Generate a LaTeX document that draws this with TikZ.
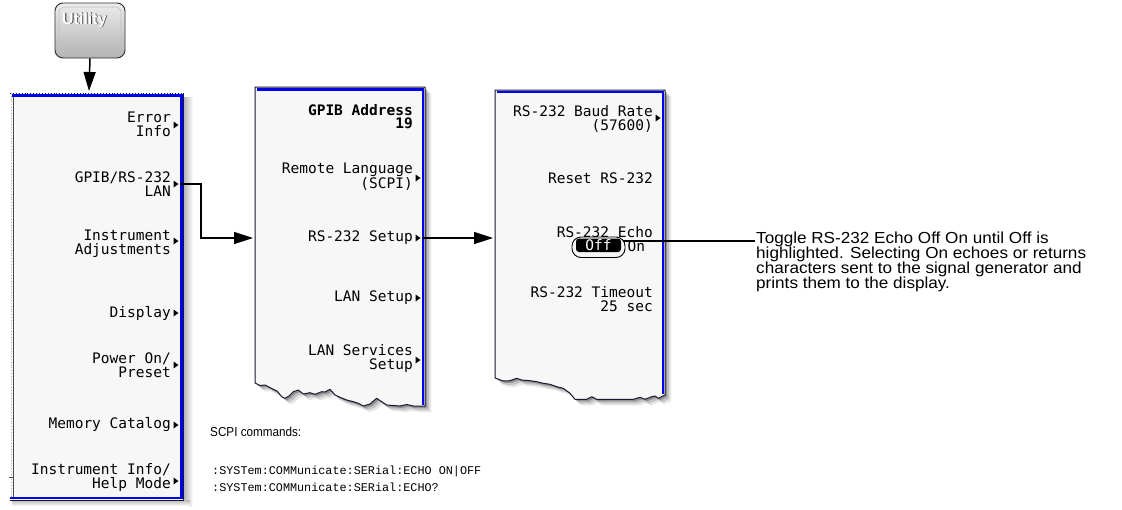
\documentclass[tikz,border=0pt]{standalone}
\usepackage{fontspec}
\setmainfont{Liberation Sans}
\newfontfamily\panelfont{DejaVu Sans Mono}
\newfontfamily\descfont[FakeStretch=1.07]{Liberation Sans}
\newfontfamily\scpifont[FakeStretch=0.9]{Liberation Sans}
\newfontfamily\cmdfont{Liberation Mono}
\usetikzlibrary{arrows.meta}
\definecolor{panelbg}{HTML}{F7F7F7}
\definecolor{blueb}{HTML}{0000F0}
\definecolor{navy}{HTML}{181830}
\newcommand\pf{\panelfont\fontsize{14.5}{14}\selectfont}
\newcommand\mtri[2]{\fill[black] (#1,#2-3.5) -- (#1+5,#2) -- (#1,#2+3.5) -- cycle;}
\tikzset{
  menu/.style={anchor=east, align=right, font=\pf, inner sep=0pt, text=black},
  arr/.style={line width=1.5pt, -{Triangle[length=19pt,width=12pt]}},
  plain/.style={line width=1.5pt},
  tornB/.style={insert path={(255,87) -- (425,87) -- (425,406) -- (413.3,406) -- (406.7,404.5) -- (400,406) -- (393.3,405.5) -- (386.7,405) -- (381.7,401.7) -- (376.7,398.3) -- (370,404) -- (363.3,406) -- (358.3,403.3) -- (353.3,401.7) -- (346.7,400) -- (340,397.3) -- (335,395) -- (330,389.3) -- (325,392) -- (321.7,391.7) -- (315,394.3) -- (310,392.7) -- (303.3,394) -- (298.3,390) -- (293.3,391.7) -- (289,396) -- (285,398.3) -- (281.7,396.7) -- (277,391) -- (273.3,389.3) -- (265,385) -- (260,385.5) -- (255,383) -- cycle}},
  tornC/.style={insert path={(495,90) -- (665,90) -- (665,395) -- (658.3,398.3) -- (655,396) -- (651.7,396.7) -- (645,399.3) -- (640,397.3) -- (633.3,399.3) -- (606.7,399.3) -- (596.7,399.3) -- (591.7,396.7) -- (586.7,399.3) -- (575,399.3) -- (570,393.3) -- (563.3,388.3) -- (556.7,386.7) -- (550,384.3) -- (543.3,383.3) -- (536.7,381.7) -- (530,380.7) -- (521.7,380) -- (516.7,378.3) -- (510,380.7) -- (503.3,381) -- (495,378) -- cycle}}
}
\begin{document}
\begin{tikzpicture}[x=1pt,y=-1pt]
\useasboundingbox (0,0) rectangle (1122,509);
\fill[white] (0,0) rectangle (1122,509);

% ---------- Utility button ----------
\node[draw=gray!35!black, line width=0.9pt, rounded corners=8pt, minimum width=70pt, minimum height=55pt,
      top color=gray!15, bottom color=gray!60, inner sep=0pt] (util) at (90,30.5) {};
\draw[gray!50, line width=0.6pt, rounded corners=6pt] (59,7) rectangle (121,54);
\node[font=\bfseries\fontsize{16}{16}\selectfont, text=gray!40!black, anchor=west, inner sep=0pt] (utsh) at (62.8,20.8) {Utility};
\node[font=\bfseries\fontsize{16}{16}\selectfont, text=white, anchor=west, inner sep=0pt] (utlbl) at (62,20) {Utility};

% ---------- Panel 1 ----------
\shade[left color=gray!65, right color=white] (183,97) rectangle (193,506);
\shade[top color=gray!55, bottom color=white] (12,500) rectangle (190,506);
\fill[panelbg] (11,93) rectangle (182,498);
\draw[gray!60, dotted, line width=0.8pt] (11,93) -- (11,498);
\draw[gray!60!black, line width=0.8pt] (13.5,93) -- (13.5,498);
\draw[gray!60!black, line width=0.8pt] (9,477) -- (13.5,477);
\draw[navy, dotted, line width=0.9pt] (10,93) -- (183,93);
\draw[blueb, line width=2.4pt] (12,95.5) -- (181.5,95.5) -- (181.5,498) -- (10,498);
\draw[navy, line width=0.7pt] (183,93) -- (183,500) -- (10,500);
\coordinate (p1top) at (89,91);

\node[menu] (e1) at (171,124) {Error\\Info};           \mtri{173.5}{125}
\node[menu] (e2) at (171,184) {GPIB/RS-232\\LAN};      \mtri{173.5}{184}
\node[menu] (e3) at (171,244) {Instrument\\Adjustments}; \mtri{173.5}{241}
\node[menu] (e4) at (171,313) {Display};               \mtri{173.5}{313}
\node[menu] (e5) at (171,365.5) {Power On/\\Preset};   \mtri{173.5}{365}
\node[menu] (e6) at (171,425) {Memory Catalog};        \mtri{173.5}{425}
\node[menu] (e7) at (171,477) {Instrument Info/\\Help Mode}; \mtri{173.5}{481}

% ---------- Panel 2 ----------
\foreach \s/\o in {6/0.10,4/0.15,2/0.25}{
  \fill[black, opacity=\o, shift={(\s,\s)}] (255,87) [tornB];
}
\fill[panelbg] (255,87) [tornB];
\draw[navy, line width=1pt, line join=round] (255,87) [tornB];
\draw[blueb, line width=2.4pt] (256.5,89.5) -- (423,89.5) -- (423,405);
\coordinate (p2in) at (253,238);

\node[anchor=east, align=right, font=\panelfont\bfseries\fontsize{14.5}{13}\selectfont, inner sep=0pt] (g1) at (413,116.5) {GPIB Address\\19};
\node[menu] (g2) at (413,176.5) {Remote Language\\(SCPI)}; \mtri{415.5}{178}
\node[menu] (g3) at (413,238) {RS-232 Setup};              \mtri{415.5}{238}
\node[menu] (g4) at (413,298) {LAN Setup};                 \mtri{415.5}{298}
\node[menu] (g5) at (413,358.5) {LAN Services\\Setup};     \mtri{415.5}{360}
\coordinate (c2s) at (422,238);

% ---------- Panel 3 ----------
\foreach \s/\o in {6/0.10,4/0.15,2/0.25}{
  \fill[black, opacity=\o, shift={(\s,\s)}] (495,90) [tornC];
}
\fill[panelbg] (495,90) [tornC];
\draw[navy, line width=1pt, line join=round] (495,90) [tornC];
\draw[blueb, line width=2.4pt] (496.5,92) -- (663,92) -- (663,394);
\coordinate (p3in) at (493,238);

\node[menu] (r1) at (653,118.5) {RS-232 Baud Rate\\(57600)}; \mtri{655.5}{118}
\node[menu] (r2) at (653,178) {Reset RS-232};
\node[menu] (r3) at (653,232) {RS-232 Echo};
\draw[black, line width=0.9pt, fill=panelbg, rounded corners=9pt] (572,237) rectangle (625,257.5);
\fill[black, rounded corners=3pt] (576,238.5) rectangle (621,252);
\node[font=\pf, text=white, inner sep=0pt] (offl) at (598.5,245.3) {Off};
\node[font=\pf, text=black, inner sep=0pt, anchor=west] (onl) at (627.5,246.5) {On};
\node[menu] (r4) at (653,299.5) {RS-232 Timeout\\25 sec};

% ---------- connectors ----------
\coordinate (c1s) at (180,184);
\draw[arr] (util.south) -- (p1top);
\draw[arr] (c1s) -- ++(21,0) |- (p2in);
\draw[arr] (c2s) -- (p3in);
\coordinate (cal) at (755,241);
\coordinate (cst) at (623,241);
\draw[plain] (cst) -- (cal);

% ---------- description ----------
\node[anchor=west, align=left, inner sep=0pt, font=\descfont\fontsize{16}{15}\selectfont] (desc) at (756,262)
 {Toggle RS-232 Echo Off On until Off is\\highlighted. Selecting On echoes or returns\\characters sent to the signal generator and\\prints them to the display.};

% ---------- SCPI ----------
\node[anchor=west, inner sep=0pt, font=\scpifont\fontsize{13}{13}\selectfont] (scpi) at (210,432) {SCPI commands:};
\node[anchor=west, inner sep=0pt, font=\cmdfont\fontsize{11.8}{12}\selectfont] (cmd1) at (212,471) {:SYSTem:COMMunicate:SERial:ECHO ON|OFF};
\node[anchor=west, inner sep=0pt, font=\cmdfont\fontsize{11.8}{12}\selectfont] (cmd2) at (212,487) {:SYSTem:COMMunicate:SERial:ECHO?};
\end{tikzpicture}
\end{document}
